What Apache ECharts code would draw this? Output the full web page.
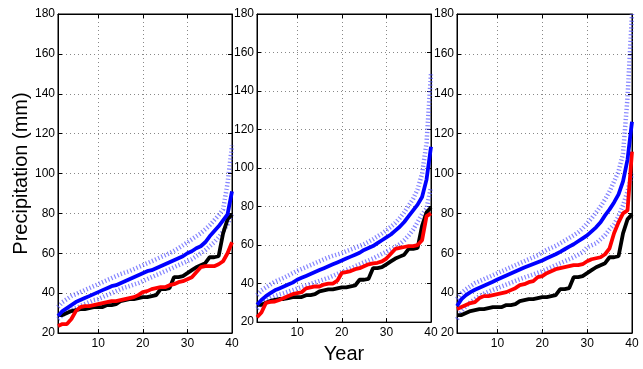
<!DOCTYPE html>
<html>
<head>
<meta charset="utf-8">
<script src="https://cdn.jsdelivr.net/npm/echarts@6/dist/echarts.min.js"></script>
<style>
html,body{margin:0;padding:0;background:#fff;}
#chart{width:643px;height:369px;}
</style>
</head>
<body>
<div id="chart"></div>
<script>
// Years (x categories)
const years = [];
for (let i = 1; i <= 40; i++) years.push(i);
const xTickLabels = [10, 20, 30, 40];
const yTickLabels = [20, 40, 60, 80, 100, 120, 140, 160, 180];

// Observed (black), same in all panels
const observed = [29,29,30,31,31.5,32,32,32.5,33,33,33,34,34,34.5,36,36.5,37,37,37.5,38,38,38.5,39,42,42,42.5,48,48,48.5,50,51.5,53,54,55,58,58,58.5,70,77,79.5];

// Panel 1
const p1Red = [23.5,24.5,24.5,27,31,33,33.5,33.5,34,34.5,35,35.5,36,36,36.5,37,37.5,38,39,40.5,41,42,42.5,43,43,44,44.5,45.5,46,47,48,50.5,53,53.5,53.5,53.5,54.5,56,60,65.5];
const p1Blue = [28.5,31,32.5,34,35.5,36.5,37.5,38.5,39.5,40.5,41.5,42.5,43.5,44,45,46,47,48,49,50,51,51.5,52.5,53.5,54.5,55.5,56.5,57.5,58.5,60,61,62.5,63.5,65.5,68.5,71,73.5,76.5,79.5,91];
const p1Upper = [33,35.5,37,38.5,39.5,40.5,41.5,42.5,43.5,44.5,45.5,46.5,47.5,48.5,49.5,50.3,51,52,53,54,55,56,57,58,59,60,61.2,62.5,64,65.5,67,68.5,70,72,74,76.5,79,82,95,114];
const p1Lower = [27,29,30.5,31.5,32.5,33.5,34.5,35.5,36.5,37,38,39,40,41,42,42.8,43.5,44.3,45,46,47,48,49,50,51,52,53,54,55,56,57,58.5,60,61.5,63.5,65.5,68,71,74.5,80];

// Panel 2
const p2Red = [22.5,25,30,30.5,30.7,31.5,32.5,33.5,34.5,35,35.5,37.5,38,38.5,38.5,39.5,40,40,41.5,45.5,46,46.5,47.5,48,49,50,50.5,50.8,51.5,53,55.5,58,58.5,59,59.5,59.5,60,62.5,75,76.5];
const p2Blue = [29,31.5,33.5,35,36.5,37.5,38.5,39.5,40.5,42,43,44,45,46,47,48,49,50,51,52,53,54,55,56,57.5,58.5,59.5,61,62.5,64,65.5,67.5,69.5,72,75,78,81,85,94,111];
const p2Upper = [34,36.5,38,39.5,41,42,43,44.2,45.4,46.6,47.6,48.6,49.6,50.6,51.6,52.6,53.6,54.4,55.1,55.8,56.8,57.7,58.6,59.5,60.5,61.7,63,64.5,66,67.7,69.5,71.5,74,77,80.5,84,89,97,113,149];
const p2Lower = [27,29.5,31,32.5,33.5,34.3,35,35.8,36.6,37.4,38.2,39,39.8,40.6,41.4,42.2,43,44,45,46,47,48,49,50,51,52,53,54.2,55.4,56.6,57.8,59,60.5,62.5,65,68,72,76,79,90];

// Panel 3
const p3Red = [32,33,34,35,35.5,37.5,38.5,38.5,39,39.5,40,40.5,41.5,42.5,44,44.5,45.5,46,48,48.5,50,51,52,52.5,53,53.5,54,54,54.5,56,57,57.5,58,59.5,62.5,70,75.5,80,81.5,111];
const p3Blue = [33.5,37,39,40.5,41.7,42.7,43.7,44.7,45.7,46.8,47.8,48.8,49.8,50.8,51.8,52.8,53.7,54.6,55.5,56.4,57.5,58.5,59.5,60.7,62,63.3,64.5,66,67.5,69,71,73,75.5,79,82,85.5,89.5,96,107,126];
const p3Upper = [37,40,42,43.5,45,46,47,48,49,50,51,52,53,54,55,56,57,58,59,60.5,61.7,62.7,63.7,65,66.3,67.6,69,70.5,72.5,75,77.5,80.5,83.5,87,91,96,101,110,138,180];
const p3Lower = [27,31,33.5,35.5,37,38.5,39.7,40.7,41.6,42.5,43.4,44.3,45.2,46.1,47,47.8,48.6,49.4,50.2,51,52,53,54,55,56,57,58,59.2,60.5,63,64,65,67,69,72,74.5,78.5,84,91,100];

const panels = [
  {red: p1Red, blue: p1Blue, upper: p1Upper, lower: p1Lower},
  {red: p2Red, blue: p2Blue, upper: p2Upper, lower: p2Lower},
  {red: p3Red, blue: p3Blue, upper: p3Upper, lower: p3Lower}
];

const FONT = '"Liberation Sans", Arial, Helvetica, sans-serif';
const gridPos = [
  {left: 58, width: 174},
  {left: 257, width: 174},
  {left: 457, width: 175}
];
const showX = (idx, val) => xTickLabels.indexOf(Number(val)) >= 0;
const showXSplit = (idx, val) => Number(val) === 10 || Number(val) === 20 || Number(val) === 30;

const grid = [], xAxis = [], yAxis = [], series = [];
gridPos.forEach((g, i) => {
  grid.push({left: g.left, width: g.width, top: 14, bottom: 36, show: true,
    borderColor: '#000', borderWidth: 1, backgroundColor: '#fff', containLabel: false});
  xAxis.push({
    type: 'category', gridIndex: i, data: years, boundaryGap: false, position: 'bottom',
    name: i === 1 ? 'Year' : '', nameLocation: 'middle', nameGap: 14,
    nameTextStyle: {fontFamily: FONT, fontSize: 20, color: '#000'},
    axisLine: {show: true, lineStyle: {color: '#000', width: 1}},
    axisTick: {show: true, inside: true, length: 4, interval: showX, lineStyle: {color: '#000'}},
    axisLabel: {show: true, interval: showX, margin: 5, fontFamily: FONT, fontSize: 12, color: '#000',
      formatter: v => String(v)},
    splitLine: {show: true, interval: showXSplit, lineStyle: {color: '#888', type: [1, 3], width: 1}}
  });
  xAxis.push({
    type: 'category', gridIndex: i, data: years, boundaryGap: false, position: 'top',
    axisLine: {show: true, lineStyle: {color: '#000', width: 1}},
    axisTick: {show: true, inside: true, length: 4, interval: showX, lineStyle: {color: '#000'}},
    axisLabel: {show: false}, splitLine: {show: false}
  });
  yAxis.push({
    type: 'value', gridIndex: i, min: 20, max: 180, interval: 20, position: 'left',
    name: i === 0 ? 'Precipitation (mm)' : '', nameLocation: 'middle', nameGap: 25,
    nameTextStyle: {fontFamily: FONT, fontSize: 20, color: '#000'},
    axisLine: {show: true, lineStyle: {color: '#000', width: 1}},
    axisTick: {show: true, inside: true, length: 4, lineStyle: {color: '#000'}},
    axisLabel: {show: true, margin: 3, fontFamily: FONT, fontSize: 12, color: '#000'},
    splitLine: {show: true, lineStyle: {color: '#888', type: [1, 3], width: 1}}
  });
  yAxis.push({
    type: 'value', gridIndex: i, min: 20, max: 180, interval: 20, position: 'right',
    axisLine: {show: true, lineStyle: {color: '#000', width: 1}},
    axisTick: {show: true, inside: true, length: 4, lineStyle: {color: '#000'}},
    axisLabel: {show: false}, splitLine: {show: false}
  });
  const p = panels[i];
  const base = {type: 'line', xAxisIndex: 2 * i, yAxisIndex: 2 * i, symbol: 'none', silent: true,
    animation: false, clip: true};
  const bandStyle = {color: '#5050ff', width: 4.5, type: [1.2, 2.2], opacity: 0.7};
  series.push(Object.assign({}, base, {name: 'upper' + i, data: p.upper, lineStyle: bandStyle}));
  series.push(Object.assign({}, base, {name: 'lower' + i, data: p.lower, lineStyle: bandStyle}));
  series.push(Object.assign({}, base, {name: 'obs' + i, data: observed,
    lineStyle: {color: '#000', width: 3.8}}));
  series.push(Object.assign({}, base, {name: 'red' + i, data: p.red,
    lineStyle: {color: '#ff0000', width: 3.8}}));
  series.push(Object.assign({}, base, {name: 'blue' + i, data: p.blue,
    lineStyle: {color: '#0000ff', width: 3.8}}));
});

const chart = echarts.init(document.getElementById('chart'), null, {renderer: 'canvas'});
chart.setOption({
  backgroundColor: '#fff',
  animation: false,
  grid: grid, xAxis: xAxis, yAxis: yAxis, series: series
});
</script>
</body>
</html>
